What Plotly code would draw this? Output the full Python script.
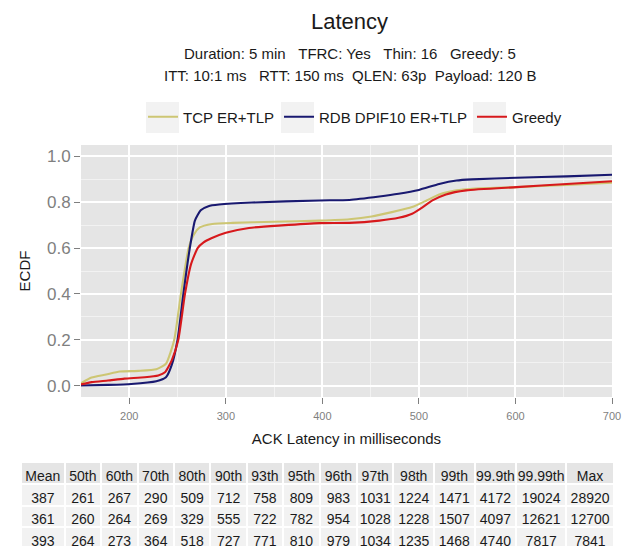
import plotly.graph_objects as go

# ---- data ----
series_names = ["TCP ER+TLP", "RDB DPIF10 ER+TLP", "Greedy"]
series_colors = ["#CDC673", "#191970", "#D7191C"]

tcp_x = [150, 161, 176, 190, 210, 228, 238, 246.6, 253.5, 261.5, 267, 273, 286, 307, 350, 397,
         428, 451, 472, 493, 508, 521, 539, 555, 601, 653, 700]
tcp_y = [0.01, 0.035, 0.048, 0.061, 0.064, 0.071, 0.095, 0.2, 0.4, 0.6, 0.66, 0.69, 0.705, 0.71,
         0.715, 0.72, 0.726, 0.738, 0.757, 0.779, 0.808, 0.834, 0.852, 0.859, 0.866, 0.876, 0.885]

rdb_x = [150, 178, 202, 228, 238, 244, 250, 256, 262.7, 268, 274, 282, 293, 327, 397, 428, 459,
         479, 500, 521, 539, 555, 601, 653, 700]
rdb_y = [0.0, 0.003, 0.007, 0.019, 0.036, 0.09, 0.2, 0.4, 0.6, 0.72, 0.765, 0.783, 0.79, 0.799,
         0.808, 0.81, 0.825, 0.837, 0.854, 0.88, 0.895, 0.90, 0.907, 0.913, 0.92]

greedy_x = [150, 161, 178, 195, 216, 230, 237, 244, 250.8, 257.7, 264, 270.8, 277, 285, 300, 324,
            358, 397, 428, 459, 479, 493, 504, 514, 528, 549, 601, 653, 700]
greedy_y = [0.005, 0.015, 0.022, 0.03, 0.036, 0.044, 0.058, 0.11, 0.2, 0.4, 0.53, 0.6, 0.625,
            0.643, 0.667, 0.688, 0.699, 0.709, 0.71, 0.72, 0.732, 0.75, 0.779, 0.808, 0.834,
            0.852, 0.866, 0.88, 0.892]

table_header = ["Mean", "50th", "60th", "70th", "80th", "90th", "93th", "95th", "96th", "97th",
                "98th", "99th", "99.9th", "99.99th", "Max"]
table_rows = [
    [387, 261, 267, 290, 509, 712, 758, 809, 983, 1031, 1224, 1471, 4172, 19024, 28920],
    [361, 260, 264, 269, 329, 555, 722, 782, 954, 1028, 1228, 1507, 4097, 12621, 12700],
    [393, 264, 273, 364, 518, 727, 771, 810, 979, 1034, 1235, 1468, 4740, 7817, 7841],
]
col_widths = [42, 35, 35, 35, 35, 35, 35, 35, 36, 35, 39, 39, 40, 48, 46]

title_text = "Latency"
subtitle_1 = "Duration: 5 min\u00a0\u00a0\u00a0TFRC: Yes\u00a0\u00a0\u00a0Thin: 16\u00a0\u00a0\u00a0Greedy: 5"
subtitle_2 = "ITT: 10:1 ms\u00a0\u00a0\u00a0RTT: 150 ms\u00a0\u00a0QLEN: 63p\u00a0\u00a0Payload: 120 B"

W, H = 622, 547
FONT = "Liberation Sans, Arial, Helvetica, sans-serif"

def px_x(p):
    return p / W

def px_y(p):
    return 1 - p / H

fig = go.Figure()
for name, color, xs, ys in zip(series_names, series_colors,
                               [tcp_x, rdb_x, greedy_x], [tcp_y, rdb_y, greedy_y]):
    fig.add_trace(go.Scatter(x=xs, y=ys, mode="lines", name=name,
                             line=dict(color=color, width=2.1, shape="spline", smoothing=0.5)))

# table
columns = [[r[i] for r in table_rows] for i in range(len(table_header))]
fig.add_trace(go.Table(
    domain=dict(x=[px_x(21), px_x(614)], y=[0, px_y(462)]),
    columnwidth=col_widths,
    header=dict(values=table_header, fill_color="#E5E5E5", line=dict(color="white", width=2),
                align="center", height=22, font=dict(family=FONT, size=14, color="#1a1a1a")),
    cells=dict(values=columns, fill_color="#F2F2F2", line=dict(color="white", width=2),
               align="center", height=21.5, font=dict(family=FONT, size=14, color="#1a1a1a")),
))

# legend key backgrounds (ggplot-style grey key boxes)
key_boxes = [(146, 179), (281, 314), (473, 506)]
shapes = [dict(type="rect", xref="paper", yref="paper", x0=px_x(a), x1=px_x(b),
               y0=px_y(133), y1=px_y(102), fillcolor="#F2F2F2", line=dict(width=0), layer="below")
          for a, b in key_boxes]

fig.update_layout(
    width=W, height=H,
    margin=dict(l=0, r=0, t=0, b=0),
    paper_bgcolor="white",
    plot_bgcolor="#E5E5E5",
    font=dict(family=FONT, color="#1a1a1a"),
    showlegend=True,
    legend=dict(orientation="h", x=px_x(143), xanchor="left", y=px_y(117), yanchor="middle",
                bgcolor="rgba(0,0,0,0)", font=dict(size=15, family=FONT, color="#1a1a1a"),
                itemwidth=30),
    xaxis=dict(domain=[px_x(81), px_x(612)], range=[150, 700], tickvals=[200, 300, 400, 500, 600, 700],
               automargin=False,
               showgrid=True, gridcolor="white", gridwidth=1.5, zeroline=False,
               minor=dict(tickvals=[250, 350, 450, 550, 650], showgrid=True, gridcolor="#F2F2F2",
                          gridwidth=0.8, ticks=""),
               ticks="outside", ticklen=6, tickcolor="#7F7F7F", tickwidth=1.3,
               ticklabelstandoff=3,
               tickfont=dict(size=11, color="#7F7F7F"),
               title=dict(text="ACK Latency in milliseconds", font=dict(size=15, color="#1a1a1a"),
                          standoff=12),
               showline=False),
    yaxis=dict(domain=[px_y(397), px_y(145)], range=[-0.05, 1.05],
               automargin=False,
               tickvals=[0, 0.2, 0.4, 0.6, 0.8, 1.0], tickformat=".1f",
               showgrid=True, gridcolor="white", gridwidth=1.5, zeroline=False,
               minor=dict(tickvals=[0.1, 0.3, 0.5, 0.7, 0.9], showgrid=True, gridcolor="#F2F2F2",
                          gridwidth=0.8, ticks=""),
               ticks="outside", ticklen=6, tickcolor="#7F7F7F", tickwidth=1.3,
               tickfont=dict(size=17, color="#7F7F7F"),
               title=dict(text="ECDF", font=dict(size=15, color="#1a1a1a"), standoff=12),
               showline=False),
    annotations=[
        dict(text=title_text, x=px_x(349.5), y=px_y(21), xref="paper", yref="paper",
             showarrow=False, xanchor="center", yanchor="middle", font=dict(size=22, color="#1a1a1a")),
        dict(text=subtitle_1, x=px_x(349.5), y=px_y(53.5), xref="paper", yref="paper",
             showarrow=False, xanchor="center", yanchor="middle", font=dict(size=15, color="#1a1a1a")),
        dict(text=subtitle_2, x=px_x(349.5), y=px_y(76), xref="paper", yref="paper",
             showarrow=False, xanchor="center", yanchor="middle", font=dict(size=15, color="#1a1a1a")),
    ],
    shapes=shapes,
)

# remove the default 8px page margin so the 622x547 figure fills the window exactly
fig.write_html("out.html", config={"displayModeBar": False},
               post_script="document.body.style.margin='0';")
